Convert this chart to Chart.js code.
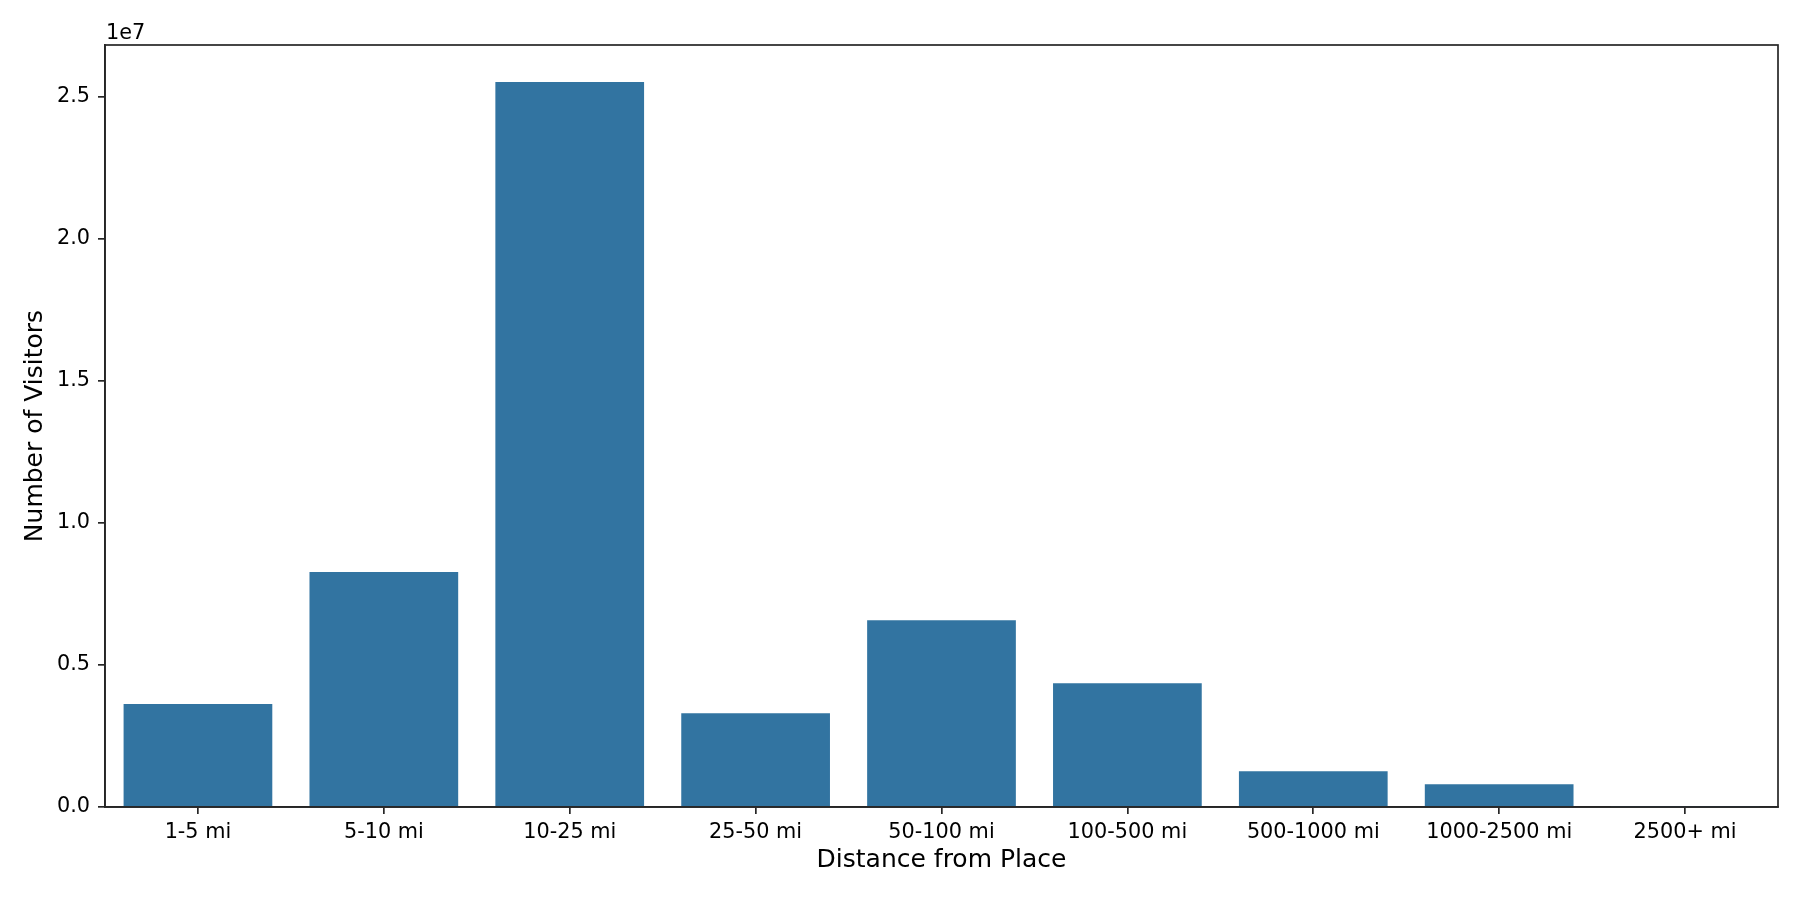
<!DOCTYPE html>
<html>
<head>
<meta charset="utf-8">
<script src="https://cdn.jsdelivr.net/npm/chart.js@4"></script>
<style>
  html, body { margin: 0; padding: 0; background: #fff; }
  #wrap { width: 1800px; height: 900px; }
</style>
</head>
<body>
<div id="wrap"><canvas id="visitors" width="1800" height="900"></canvas></div>
<script>
const distances = ['1-5 mi', '5-10 mi', '10-25 mi', '25-50 mi', '50-100 mi', '100-500 mi', '500-1000 mi', '1000-2500 mi', '2500+ mi']
const visitors = [3620000, 8270000, 25510000, 3300000, 6570000, 4350000, 1260000, 800000, 10000]
const yTicks = [0, 5000000, 10000000, 15000000, 20000000, 25000000]

const barColor = "#3274a1"
const inkColor = "#262626"
const font = "'DejaVu Sans', sans-serif"

// frame on all four sides plus the offset text, like matplotlib
const frame = {
  id: 'frame',
  afterDraw(chart) {
    const { ctx, chartArea: a } = chart
    ctx.save()
    ctx.strokeStyle = inkColor
    ctx.lineWidth = 1.7
    ctx.strokeRect(a.left, a.top, a.right - a.left, a.bottom - a.top)
    ctx.fillStyle = "#000"
    ctx.font = `20.8px ${font}`
    ctx.textBaseline = "alphabetic"
    ctx.textAlign = "left"
    ctx.fillText("1e7", a.left + 1, a.top - 6)
    ctx.restore()
  }
}

const el = document.querySelector("#visitors")

new Chart(el, {
  type: 'bar',
  data: {
    labels: distances,
    datasets: [{
      label: 'Number of Visitors',
      data: visitors,
      backgroundColor: barColor,
      borderWidth: 0,
      barPercentage: 0.8,
      categoryPercentage: 1,
    }]
  },
  options: {
    responsive: false,
    animation: false,
    devicePixelRatio: 1,
    layout: { padding: { top: 45, right: 22, left: 0, bottom: 0 } },
    plugins: {
      legend: { display: false },
      tooltip: { enabled: false },
    },
    scales: {
      x: {
        offset: true,
        grid: { display: true, drawOnChartArea: false, tickLength: 7, color: inkColor, lineWidth: 1.7, offset: false },
        border: { color: inkColor, width: 1.7 },
        ticks: { color: "#000", font: { family: font, size: 20.8 }, padding: 6, maxRotation: 0, autoSkip: false },
        title: { display: true, text: 'Distance from Place', color: "#000", font: { family: font, size: 25 }, padding: { top: 0, bottom: 25 } },
        afterFit: (scale) => { scale.height = 93 },
      },
      y: {
        min: 0,
        max: 26810000,
        grid: { display: true, drawOnChartArea: false, tickLength: 7, color: inkColor, lineWidth: 1.7 },
        border: { color: inkColor, width: 1.7 },
        ticks: {
          color: "#000",
          font: { family: font, size: 20.8 },
          padding: 8,
          callback: (v) => (v / 1e7).toFixed(1),
        },
        afterBuildTicks: (axis) => { axis.ticks = yTicks.map(v => ({ value: v })) },
        title: { display: true, text: 'Number of Visitors', color: "#000", font: { family: font, size: 25 }, padding: { top: 20, bottom: 0 } },
        afterFit: (scale) => { scale.width = 105 },
      }
    }
  },
  plugins: [frame]
});
</script>
</body>
</html>
